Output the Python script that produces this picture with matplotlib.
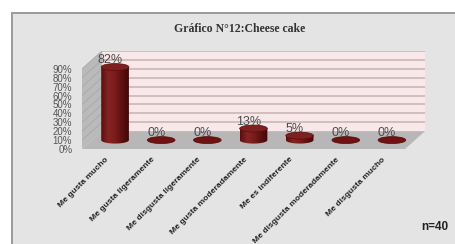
import numpy as np
import matplotlib.pyplot as plt
from matplotlib.patches import Rectangle, Polygon, Ellipse
from matplotlib.colors import LinearSegmentedColormap

# data
categories = ['Me gusta mucho', 'Me gusta ligeramente', 'Me disgusta ligeramente',
              'Me gusta moderadamente', 'Me es indiferente',
              'Me disgusta moderadamente', 'Me disgusta mucho']
values = [82, 0, 0, 13, 5, 0, 0]
yticks = list(range(0, 100, 10))
title = 'Gráfico N°12:Cheese cake'
note = 'n=40'

# fake 3d depth, in data units (category / percent)
DX = 0.433
DY = 20
n = len(categories)
ymax = 90

fig = plt.figure(figsize=(4.55, 2.44), dpi=100)
fig.patch.set_facecolor('white')

# grey frame behind the chart
fig.add_artist(Rectangle((12 / 455, -0.1), 1.2, 1 - 13 / 244 + 0.1, transform=fig.transFigure,
                         facecolor='#e4e4e4', edgecolor='#9a9a9a', linewidth=1.4, zorder=-10))

ax = fig.add_axes([82 / 455, 95 / 244, 343 / 455, 98 / 244])
ax.patch.set_visible(False)
for s in ax.spines.values():
    s.set_visible(False)

x0, x1 = -0.5, n - 0.5

# back wall + grid lines
ax.add_patch(Polygon([(x0 + DX, DY), (x1 + DX, DY), (x1 + DX, ymax + DY), (x0 + DX, ymax + DY)],
                     closed=True, facecolor='#f8e8e9', edgecolor='none', zorder=1))
for t in yticks[1:]:
    ax.plot([x0 + DX, x1 + DX], [t + DY, t + DY], color='#c6b2b3', lw=1.1, zorder=2)

# side wall, with the grid running across it
ax.add_patch(Polygon([(x0, 0), (x0, ymax), (x0 + DX, ymax + DY), (x0 + DX, DY)],
                     closed=True, facecolor='#bababa', edgecolor='none', zorder=1))
for t in yticks[1:]:
    ax.plot([x0, x0 + DX], [t, t + DY], color='#a8a8a8', lw=0.6, zorder=2)

# floor
ax.add_patch(Polygon([(x0, 0), (x1, 0), (x1 + DX, DY), (x0 + DX, DY)],
                     closed=True, facecolor='#b8b6b6', edgecolor='none', zorder=2))

# cylinders
w = 0.6
eh = 7.8
body_cmap = LinearSegmentedColormap.from_list(
    'cyl', ['#5c0f0f', '#862424', '#7a1c1c', '#5e1010', '#420707'])
grad = np.linspace(0, 1, 64).reshape(1, -1)
theta = np.linspace(np.pi, 2 * np.pi, 40)

for i, v in enumerate(values):
    cx = i + DX / 2
    base = DY / 2
    top = base + v
    if v > 0:
        xs = cx + w / 2 * np.cos(theta)
        ys = base + eh / 2 * np.sin(theta)
        pts = list(zip(xs, ys)) + [(cx + w / 2, top), (cx - w / 2, top)]
        clip = Polygon(pts, closed=True, facecolor='none', edgecolor='none', zorder=3)
        ax.add_patch(clip)
        im = ax.imshow(grad, cmap=body_cmap, aspect='auto', zorder=3,
                       extent=[cx - w / 2, cx + w / 2, base - eh, top])
        im.set_clip_path(clip)
        ax.add_patch(Ellipse((cx, top), w, eh, facecolor='#7f2020', edgecolor='#5a0d0d',
                             lw=0.5, zorder=4))
    else:
        ax.add_patch(Ellipse((cx, top), w, eh, facecolor='#6e1212', edgecolor='#520909',
                             lw=0.5, zorder=4))
    ax.text(i + 0.11, top + eh, f'{v}%', ha='center', va='center', fontsize=9,
            family='Liberation Sans', color='#4a4a4a', zorder=5)

ax.set_xlim(x0, x1 + DX)
ax.set_ylim(0, ymax + DY)

ax.set_yticks(yticks)
ax.set_yticklabels([f'{t}%' for t in yticks], fontsize=7, family='Liberation Sans', color='#555555')
ax.set_xticks(range(n))
ax.set_xticklabels(categories, rotation=45, ha='right', va='top', rotation_mode='anchor',
                   fontsize=6.1, family='Liberation Sans', weight='bold', color='#222222')
ax.tick_params(axis='y', length=0, pad=7)
ax.tick_params(axis='x', length=0, pad=5)

fig.text(240 / 455, 1 - 29 / 244, title, ha='center', va='center', fontsize=8.5,
         family='Liberation Serif', weight='bold', color='#333333')
fig.text(435 / 455, 1 - 227 / 244, note, ha='center', va='center', fontsize=8.5,
         family='Liberation Sans', weight='bold', color='#222222')

plt.savefig('out.png', dpi=100)
